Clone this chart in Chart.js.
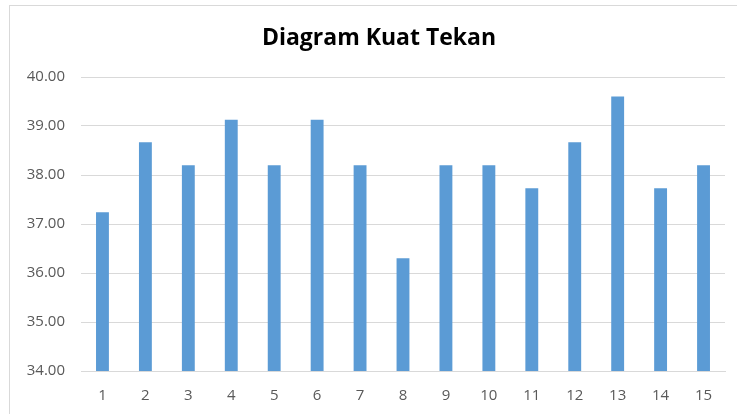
<!DOCTYPE html>
<html>
<head>
<meta charset="utf-8">
<script src="https://cdn.jsdelivr.net/npm/chart.js@4"></script>
<style>
  html, body { margin: 0; padding: 0; background: #fff; overflow: hidden; }
  #wrap { position: relative; width: 737px; height: 414px; }
  #frame { position: absolute; left: 9px; top: 5px; width: 800px; height: 500px;
           border: 1.5px solid #d9d9d9; pointer-events: none; }
</style>
</head>
<body>
<div id="wrap">
  <canvas id="chart1" width="737" height="414"></canvas>
  <div id="frame"></div>
</div>
<script>
// data
const categories = ['1','2','3','4','5','6','7','8','9','10','11','12','13','14','15'];
const kuatTekan = [37.24, 38.67, 38.20, 39.13, 38.20, 39.13, 38.20, 36.30, 38.20, 38.20, 37.73, 38.67, 39.60, 37.73, 38.20];
const yMin = 34, yMax = 40, yStep = 1;
const chartTitle = 'Diagram Kuat Tekan';

const fontFamily = '"Open Sans", "Liberation Sans", sans-serif';
Chart.defaults.font.family = fontFamily;

// title is centred on the outer frame, not on the canvas, so draw it by hand
const frameTitle = {
  id: 'frameTitle',
  afterDraw(chart) {
    const ctx = chart.ctx;
    ctx.save();
    ctx.font = 'bold 23px ' + fontFamily;
    ctx.fillStyle = '#000';
    ctx.textAlign = 'center';
    ctx.textBaseline = 'middle';
    ctx.fillText(chartTitle, 379, 38);
    ctx.restore();
  }
};

new Chart('chart1', {
  type: 'bar',
  data: {
    labels: categories,
    datasets: [{
      label: 'Kuat Tekan',
      data: kuatTekan,
      backgroundColor: '#5b9bd5',
      barPercentage: 0.3,
      categoryPercentage: 1.0
    }]
  },
  options: {
    responsive: false,
    animation: false,
    layout: { padding: { left: 0, right: 12, top: 77, bottom: 0 } },
    plugins: {
      legend: { display: false },
      tooltip: { enabled: false },
      title: { display: false }
    },
    scales: {
      x: {
        grid: { display: false },
        border: { display: true, color: '#d9d9d9', width: 1 },
        ticks: { color: '#595959', font: { size: 15 }, padding: 8, maxRotation: 0 },
        afterFit: s => { s.height = 43; }
      },
      y: {
        min: yMin,
        max: yMax,
        grid: { color: '#d9d9d9', drawTicks: false },
        border: { display: false },
        ticks: {
          stepSize: yStep,
          color: '#595959',
          font: { size: 15 },
          padding: 16,
          callback: v => v.toFixed(2)
        },
        afterFit: s => { s.width = 81; }
      }
    }
  },
  plugins: [frameTitle]
});
</script>
</body>
</html>
